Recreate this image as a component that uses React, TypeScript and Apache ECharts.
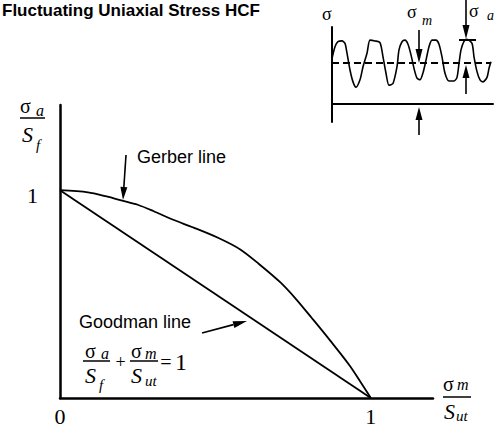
import React, { useEffect, useRef } from 'react';
import * as echarts from 'echarts';

const chartTitle = 'Fluctuating Uniaxial Stress HCF';

// Goodman line: σa/Sf + σm/Sut = 1 (normalised mean stress vs normalised amplitude)
const goodmanMean = [0, 1];
const goodmanAmp = [1, 0];

// Gerber curve
const gerberMean = [0, 0.09, 0.15, 0.2, 0.25, 0.3, 0.36, 0.43, 0.51, 0.58, 0.64, 0.71, 0.76, 0.81, 0.87, 0.93, 0.97, 1];
const gerberAmp = [1, 0.99, 0.97, 0.95, 0.93, 0.9, 0.86, 0.82, 0.77, 0.715, 0.645, 0.555, 0.475, 0.385, 0.275, 0.16, 0.07, 0];

const xTickLabels = ['0', '1'];
const yTickLabels = ['1'];

// Stress history shown in the inset (time, stress); mean level is meanStress
const waveTime = [0, 3, 6, 10, 13, 15, 18, 21, 24, 28, 31, 35, 38, 43, 48, 51, 54, 57, 61, 65, 67, 70, 73, 76, 79, 82, 85, 88, 91, 94, 97, 100, 104, 107, 110, 113, 117, 122, 125, 127, 129, 132, 135, 140, 142, 145, 148, 151, 155, 157, 159];
const waveStress = [1.11, 1.4, 1.52, 1.54, 1.48, 1.24, 0.83, 0.54, 0.41, 0.59, 0.91, 1.24, 1.56, 1.54, 1.5, 1.15, 0.75, 0.46, 0.5, 0.91, 1.32, 1.52, 1.56, 1.46, 1.2, 0.87, 0.63, 0.59, 0.76, 1.07, 1.4, 1.56, 1.56, 1.46, 1.15, 0.75, 0.56, 0.56, 0.65, 0.99, 1.32, 1.53, 1.58, 1.48, 1.15, 0.79, 0.59, 0.54, 0.65, 0.87, 1.03];
const meanStress = 1;

const SERIF = '"Liberation Serif", "Times New Roman", Times, serif';
const SANS = '"Liberation Sans", Arial, Helvetica, sans-serif';

type TxtOpts = { italic?: boolean; bold?: boolean; family?: string; align?: string };

function txt(text: string, x: number, y: number, size: number, opts: TxtOpts = {}) {
  return {
    type: 'text',
    x,
    y,
    silent: true,
    style: {
      text,
      fontSize: size,
      fontFamily: opts.family ?? SERIF,
      fontStyle: opts.italic ? 'italic' : 'normal',
      fontWeight: opts.bold ? 'bold' : 'normal',
      fill: '#000',
      align: opts.align ?? 'left',
      verticalAlign: 'middle',
    },
  };
}

function hline(x1: number, x2: number, y: number, w = 1.5) {
  return { type: 'line', silent: true, shape: { x1, y1: y, x2, y2: y }, style: { stroke: '#000', lineWidth: w } };
}

function arrow(x1: number, y1: number, x2: number, y2: number, len = 13, hw = 7, w = 1.6) {
  const dx = x2 - x1;
  const dy = y2 - y1;
  const L = Math.hypot(dx, dy);
  const ux = dx / L;
  const uy = dy / L;
  const bx = x2 - ux * len;
  const by = y2 - uy * len;
  const px = -uy;
  const py = ux;
  return [
    { type: 'line', silent: true, shape: { x1, y1, x2: bx, y2: by }, style: { stroke: '#000', lineWidth: w } },
    {
      type: 'polygon',
      silent: true,
      shape: {
        points: [
          [x2, y2],
          [bx + (px * hw) / 2, by + (py * hw) / 2],
          [bx - (px * hw) / 2, by - (py * hw) / 2],
        ],
      },
      style: { fill: '#000' },
    },
  ];
}

function tickFormatter(list: string[]) {
  return (v: number) => {
    const s = String(Math.round(v * 1000) / 1000);
    return list.includes(s) ? s : '';
  };
}

export default function App() {
  const ref = useRef<HTMLDivElement>(null);

  useEffect(() => {
    if (!ref.current) return;
    const chart = echarts.init(ref.current, undefined, { renderer: 'svg' });

    const graphics: any[] = [
      // title
      txt(chartTitle, 2, 10, 17, { bold: true, family: SANS }),

      // y-axis name: σa / Sf
      txt('σ', 20, 105.5, 20),
      txt('a', 36, 110.5, 16, { italic: true }),
      hline(20, 45, 118),
      txt('S', 22, 134.5, 22, { italic: true }),
      txt('f', 36, 145, 15, { italic: true }),

      // x-axis name: σm / Sut
      txt('σ', 443, 383.5, 20),
      txt('m', 457, 384.5, 16, { italic: true }),
      hline(443, 471, 397),
      txt('S', 444, 411.5, 22, { italic: true }),
      txt('ut', 456, 415.5, 15, { italic: true }),

      // curve annotations
      txt('Gerber line', 137, 157, 18, { family: SANS }),
      ...arrow(126, 155, 123, 200, 13, 7),
      txt('Goodman line', 79, 322, 18, { family: SANS }),
      ...arrow(202, 333, 247, 321, 14, 7),

      // Goodman relation: σa/Sf + σm/Sut = 1
      txt('σ', 85, 351, 20),
      txt('a', 101, 353, 16, { italic: true }),
      hline(83, 110, 361),
      txt('S', 85, 375, 22, { italic: true }),
      txt('f', 99, 385, 15, { italic: true }),
      txt('+', 120.5, 361.5, 18, { align: 'center' }),
      txt('σ', 131, 351, 20),
      txt('m', 145, 353, 16, { italic: true }),
      hline(130, 158, 361),
      txt('S', 131, 375, 22, { italic: true }),
      txt('ut', 145, 381, 15, { italic: true }),
      txt('=', 166, 362, 20, { align: 'center' }),
      txt('1', 181, 361.5, 24, { align: 'center' }),

      // inset labels and arrows
      txt('σ', 322, 13.5, 18),
      txt('σ', 407, 12, 18),
      txt('m', 422, 20.5, 14, { italic: true }),
      txt('σ', 469, 10.5, 18),
      txt('a', 487, 15.5, 14, { italic: true }),
      ...arrow(419, 30, 419, 63, 14, 7),
      ...arrow(466, 0, 466, 39, 14, 7),
      hline(459, 476, 40, 2),
      ...arrow(466, 94, 466, 65, 13, 7),
      ...arrow(419, 135, 419, 107, 13, 7),
    ];

    chart.setOption({
      animation: false,
      backgroundColor: '#fff',
      grid: [
        { left: 60, right: 66, top: 105, bottom: 29 },
        { left: 332, top: 27, width: 161, height: 95 },
      ],
      xAxis: [
        {
          type: 'value',
          gridIndex: 0,
          min: 0,
          max: 1.2,
          interval: 1,
          axisLine: { show: true, onZero: false, lineStyle: { color: '#000', width: 2.5 } },
          axisTick: { show: false },
          splitLine: { show: false },
          axisLabel: {
            formatter: tickFormatter(xTickLabels),
            color: '#000',
            fontFamily: SERIF,
            fontSize: 22,
            margin: 7,
            showMaxLabel: false,
          },
        },
        {
          type: 'value',
          gridIndex: 1,
          min: 0,
          max: 161,
          axisLine: { show: true, onZero: true, lineStyle: { color: '#000', width: 2 } },
          axisTick: { show: false },
          splitLine: { show: false },
          axisLabel: { show: false },
        },
      ],
      yAxis: [
        {
          type: 'value',
          gridIndex: 0,
          min: 0,
          max: 1.41,
          interval: 1,
          axisLine: { show: true, onZero: false, lineStyle: { color: '#000', width: 2.5 } },
          axisTick: { show: false },
          splitLine: { show: false },
          axisLabel: {
            formatter: tickFormatter(yTickLabels),
            color: '#000',
            fontFamily: SERIF,
            fontSize: 22,
            margin: 22,
            verticalAlign: 'top',
            lineHeight: 10,
            showMaxLabel: false,
          },
        },
        {
          type: 'value',
          gridIndex: 1,
          min: -0.44,
          max: 1.88,
          axisLine: { show: true, onZero: false, lineStyle: { color: '#000', width: 2 } },
          axisTick: { show: false },
          splitLine: { show: false },
          axisLabel: { show: false },
        },
      ],
      series: [
        {
          name: 'Goodman line',
          type: 'line',
          xAxisIndex: 0,
          yAxisIndex: 0,
          data: goodmanMean.map((m, i) => [m, goodmanAmp[i]]),
          showSymbol: false,
          lineStyle: { color: '#000', width: 1.8 },
          silent: true,
        },
        {
          name: 'Gerber line',
          type: 'line',
          xAxisIndex: 0,
          yAxisIndex: 0,
          data: gerberMean.map((m, i) => [m, gerberAmp[i]]),
          smooth: 0.3,
          showSymbol: false,
          lineStyle: { color: '#000', width: 1.8 },
          silent: true,
        },
        {
          name: 'Stress history',
          type: 'line',
          xAxisIndex: 1,
          yAxisIndex: 1,
          data: waveTime.map((t, i) => [t, waveStress[i]]),
          smooth: 0.25,
          showSymbol: false,
          lineStyle: { color: '#000', width: 1.6 },
          silent: true,
          markLine: {
            silent: true,
            symbol: 'none',
            label: { show: false },
            lineStyle: { color: '#000', width: 2, type: [7, 4] },
            data: [[{ coord: [0, meanStress] }, { coord: [158, meanStress] }]],
          },
        },
      ],
      graphic: graphics,
    });

    return () => chart.dispose();
  }, []);

  return (
    <div
      ref={ref}
      style={{ position: 'fixed', left: 0, top: 0, width: 499, height: 427, background: '#fff' }}
    />
  );
}
